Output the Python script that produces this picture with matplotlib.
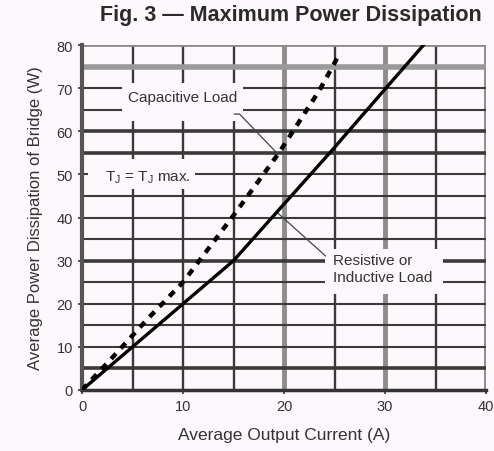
import matplotlib
matplotlib.use("Agg")
import matplotlib.pyplot as plt
from matplotlib.patches import Rectangle

# curve readings (A, W)
capacitive_x = [0, 3, 6.5, 10, 15, 19.5, 23.5, 25.5]
capacitive_y = [0, 7.5, 16.5, 25, 40.5, 55, 69.5, 78]
resistive_x = [0, 10, 15, 19.3, 24.6, 30, 33.8]
resistive_y = [0, 20, 30, 41.3, 55.2, 69.8, 80]

x_ticks = [0, 10, 20, 30, 40]
y_ticks = [0, 10, 20, 30, 40, 50, 60, 70, 80]

plt.rcParams["font.family"] = ["Liberation Sans", "DejaVu Sans"]
BG = "#fcf8fc"

fig = plt.figure(figsize=(4.94, 4.52), dpi=100, facecolor=BG)
ax = fig.add_axes([0.166, 0.135, 0.818, 0.763], facecolor=BG)

# grid: every 5 units, some lines heavier / grey like the scanned chart
for v in range(5, 40, 5):
    if v in (20, 30):
        ax.axvline(v, color="#8c8c8c", lw=3.5, zorder=1)
    else:
        ax.axvline(v, color="#3a3a3a", lw=1.7, zorder=1)
ax.axvline(40, color="#8c8c8c", lw=3.5, zorder=1)
for h in range(5, 80, 5):
    if h == 75:
        ax.axhline(h, color="#9a9a9a", lw=4, zorder=1)
    elif h in (5, 30, 55, 60):
        ax.axhline(h, color="#3a3a3a", lw=2.6, zorder=1)
    else:
        ax.axhline(h, color="#3a3a3a", lw=1.5, zorder=1)
ax.axhline(80, color="#8c8c8c", lw=2, zorder=1)

# label backgrounds break the grid
for rx, ry, rw, rh in [(4.0, 62.4, 11.9, 8.8), (0.6, 46.6, 10.6, 7.0), (24.1, 22.3, 11.6, 10.4)]:
    ax.add_patch(Rectangle((rx, ry), rw, rh, facecolor=BG, edgecolor="none", zorder=2))

ax.plot(capacitive_x, capacitive_y, color="black", lw=3.2,
        linestyle=(0, (1.6, 1.6)), zorder=4)
ax.plot(resistive_x, resistive_y, color="black", lw=2.4, zorder=4)

# leader lines
ax.plot([15.1, 15.6, 19.4], [64.0, 64.0, 54.7], color="#444444", lw=0.9, zorder=3)
ax.plot([19.4, 24.1], [41.0, 31.1], color="#444444", lw=0.9, zorder=3)

ax.text(10.0, 67.9, "Capacitive Load", fontsize=11, color="#333333",
        ha="center", va="center", zorder=5)
ax.text(6.5, 49.6, "T$_\\mathregular{J}$ = T$_\\mathregular{J}$ max.", fontsize=11,
        color="#333333", ha="center", va="center", zorder=5)
ax.text(24.8, 28.2, "Resistive or\nInductive Load", fontsize=11, color="#333333",
        ha="left", va="center", linespacing=1.2, zorder=5)

ax.set_xlim(0, 40)
ax.set_ylim(0, 80)
ax.set_xticks(x_ticks)
ax.set_yticks(y_ticks)
ax.tick_params(labelsize=10.5, colors="#333333", length=3, width=1.2)

for side in ("top", "right"):
    ax.spines[side].set_visible(False)
ax.spines["left"].set_color("#555555")
ax.spines["left"].set_linewidth(3)
ax.spines["bottom"].set_color("#333333")
ax.spines["bottom"].set_linewidth(2.5)

ax.set_xlabel("Average Output Current (A)", fontsize=12.5, color="#333333", labelpad=10)
ax.set_ylabel("Average Power Dissipation of Bridge (W)", fontsize=12, color="#333333", labelpad=10)
fig.text(0.589, 0.965, "Fig. 3 \u2014 Maximum Power Dissipation", fontsize=15.5,
         fontweight="bold", color="#2a2a2a", ha="center", va="center")

fig.savefig("out.png", dpi=100, facecolor=BG)
